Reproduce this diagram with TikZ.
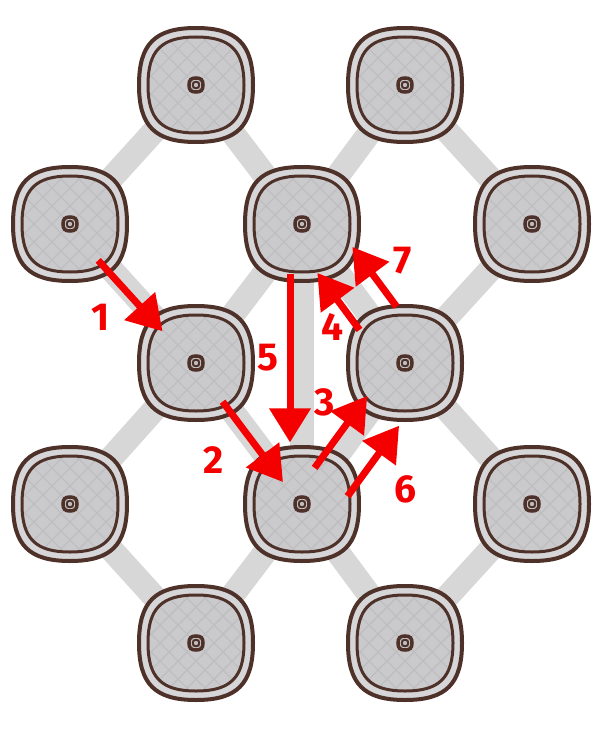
\documentclass[tikz,border=0pt]{standalone}
\usepackage{fontspec}
\setmainfont{Fira Sans}
\usepackage{xcolor}
\usetikzlibrary{calc,arrows.meta}

\definecolor{tilebrown}{HTML}{4E3129}
\definecolor{ringgray}{HTML}{D6D6D8}
\definecolor{innergray}{HTML}{CACACD}
\definecolor{hatchgray}{HTML}{BEBEC1}
\definecolor{bandgray}{HTML}{D7D7D7}
\definecolor{arrowred}{HTML}{F50000}

% rounded square with slightly bulging sides, half size #1
\newcommand{\squircle}[1]{(#1,0) .. controls (#1,0.72*#1) and (0.72*#1,#1) .. (0,#1)
  .. controls (-0.72*#1,#1) and (-#1,0.72*#1) .. (-#1,0)
  .. controls (-#1,-0.72*#1) and (-0.72*#1,-#1) .. (0,-#1)
  .. controls (0.72*#1,-#1) and (#1,-0.72*#1) .. (#1,0) -- cycle}

\begin{document}
\begin{tikzpicture}[x=1pt, y=-1pt,
    band/.style={bandgray, line width=24pt},
    move/.style={arrowred, line width=7pt, -{Triangle[length=34pt, width=40pt]}},
    num/.style={text=arrowred, font=\fontsize{39}{39}\selectfont\bfseries, inner sep=0pt},
    tile/.pic={
        \filldraw[fill=ringgray, draw=tilebrown, line width=4pt] \squircle{57};
        \begin{scope}
            \clip \squircle{48};
            \fill[innergray] (-52,-52) rectangle (52,52);
            \foreach \d in {-108,-90,...,108} {
                \draw[hatchgray, line width=1.4pt] (\d-60,-60) -- (\d+60,60);
                \draw[hatchgray, line width=1.4pt] (\d-60,60) -- (\d+60,-60);
            }
        \end{scope}
        \draw[tilebrown, line width=3pt] \squircle{48};
        % small socket in the middle
        \draw[tilebrown, line width=3.5pt] \squircle{7};
        \draw[tilebrown, line width=2pt] \squircle{3.2};
    }]

    \useasboundingbox (0,0) rectangle (600,730);

    % Tile centres, row by row
    \foreach \name/\x/\y in {a1/196/85, a2/405/85,
                             b1/70/224, b2/302/224, b3/532/224,
                             c1/196/363, c2/405/363,
                             d1/70/504, d2/302/504, d3/532/504,
                             e1/196/643, e2/405/643} {
        \coordinate (\name) at (\x,\y);
    }

    % Gray bands between neighbouring tiles
    \foreach \p/\q in {a1/b1, a1/b2, a2/b2, a2/b3,
                       b1/c1, b2/c1, b2/c2, b3/c2,
                       c1/d1, c1/d2, c2/d2, c2/d3,
                       d1/e1, d2/e1, d2/e2, d3/e2, b2/d2} {
        \draw[band] (\p) -- (\q);
    }

    % Tiles
    \foreach \name in {a1,a2,b1,b2,b3,c1,c2,d1,d2,d3,e1,e2} {
        \pic at (\name) {tile};
    }

    % Moves
    \draw[move] ($(b1)!0.24!(c1) + (-2,3)$) -- ($(b1)!0.75!(c1) + (-2,3)$);
    \draw[move] ($(c1)!0.26!(d2) + (-1,2)$) -- ($(c1)!0.83!(d2) + (-1,2)$);
    \draw[move] ($(d2)!0.21!(c2) + (-9,-6.5)$) -- ($(d2)!0.72!(c2) + (-9,-6.5)$);
    \draw[move] ($(c2)!0.31!(b2) + (-13.5,10)$) -- ($(c2)!0.72!(b2) + (-13.5,10)$);
    \draw[move] ($(b2)!0.18!(d2) + (-12,0)$) -- ($(b2)!0.78!(d2) + (-12,0)$);
    \draw[move] ($(d2)!0.19!(c2) + (26,19)$) -- ($(d2)!0.69!(c2) + (26,19)$);
    \draw[move] ($(c2)!0.29!(b2) + (21.5,-16)$) -- ($(c2)!0.72!(b2) + (21.5,-16)$);

    % Move numbers
    \node[num] (n1) at (101,317) {1};
    \node[num] (n2) at (214,460) {2};
    \node[num] (n3) at (325,402) {3};
    \node[num] (n4) at (333,327) {4};
    \node[num] (n5) at (268,358) {5};
    \node[num] (n6) at (405,489) {6};
    \node[num] (n7) at (403,261) {7};
\end{tikzpicture}
\end{document}
